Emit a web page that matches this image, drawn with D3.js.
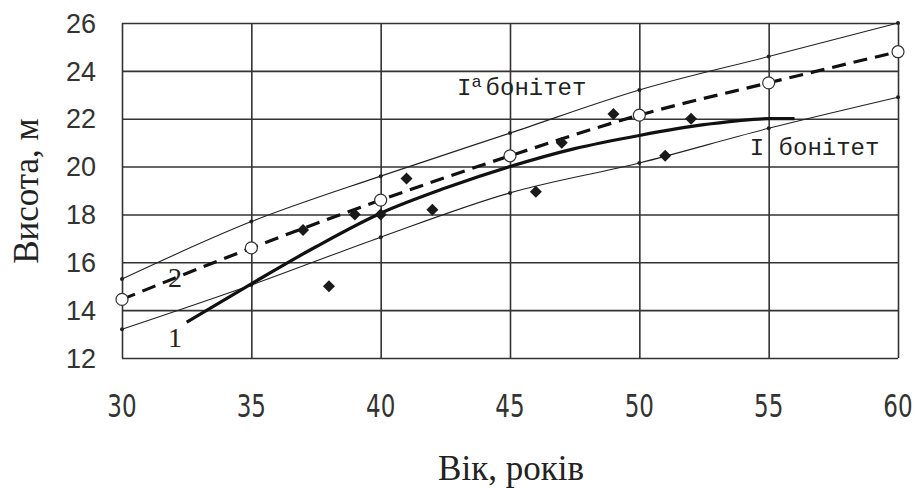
<!DOCTYPE html>
<html>
<head>
<meta charset="utf-8">
<script src="https://cdn.jsdelivr.net/npm/d3@7"></script>
<style>
  body { margin: 0; background: #fff; }
  svg { display: block; }
</style>
</head>
<body>
<div id="chart"></div>
<script>
// age ticks and the three bonitet reference curves
var ages = [30, 35, 40, 45, 50, 55, 60];
var upperBound = [15.3, 17.7, 19.6, 21.4, 23.2, 24.6, 26.0];
var lowerBound = [13.2, 15.05, 17.05, 18.9, 20.15, 21.6, 22.9];
var curve2 = [14.45, 16.6, 18.6, 20.45, 22.15, 23.5, 24.8];

// curve 1 (fitted, solid)
var curve1Ages = [32.5, 35, 37.5, 40, 42.5, 45, 47.5, 50, 52.5, 55, 56];
var curve1 = [13.5, 15.1, 16.65, 18.05, 19.1, 20.0, 20.75, 21.3, 21.75, 22.0, 22.0];

// measured trees
var pointAges = [37, 38, 39, 40, 41, 42, 46, 47, 49, 51, 52];
var pointHeights = [17.35, 15.0, 18.0, 18.0, 19.5, 18.2, 18.95, 21.0, 22.2, 20.45, 22.0];

var yTicks = [12, 14, 16, 18, 20, 22, 24, 26];

var width = 915, height = 488;
var padding = { top: 23, right: 17, bottom: 130, left: 122 };

var svg = d3.select("#chart").append("svg")
  .attr("width", width)
  .attr("height", height);

var xscale = d3.scaleLinear().domain([30, 60])
  .range([padding.left, width - padding.right]);
var yscale = d3.scaleLinear().domain([12, 26])
  .range([height - padding.bottom, padding.top]);

var gridColor = "#333";

// grid lines
svg.append("g")
  .attr("transform", "translate(0," + (height - padding.bottom) + ")")
  .call(d3.axisBottom(xscale).tickValues(ages)
    .tickSize(-(height - padding.bottom - padding.top)).tickFormat("").tickSizeOuter(0))
  .call(g => g.select(".domain").remove())
  .call(g => g.selectAll("line").attr("stroke", gridColor).attr("stroke-width", 1.6));

svg.append("g")
  .attr("transform", "translate(" + padding.left + ",0)")
  .call(d3.axisLeft(yscale).tickValues(yTicks)
    .tickSize(-(width - padding.left - padding.right)).tickFormat("").tickSizeOuter(0))
  .call(g => g.select(".domain").remove())
  .call(g => g.selectAll("line").attr("stroke", gridColor).attr("stroke-width", 1.6));

// tick labels
svg.append("g").selectAll("text").data(yTicks).enter().append("text")
  .attr("x", padding.left - 26)
  .attr("y", d => yscale(d))
  .attr("dy", "0.36em")
  .attr("text-anchor", "end")
  .style("font-family", "'Liberation Sans', Arial, sans-serif")
  .style("font-size", "27px")
  .style("fill", "#333")
  .text(d => d);

// x labels are narrow in the original, squeeze them horizontally
svg.append("g").selectAll("text").data(ages).enter().append("text")
  .attr("transform", d => "translate(" + xscale(d) + ",417) scale(0.72,1)")
  .attr("text-anchor", "middle")
  .style("font-family", "'DejaVu Sans', sans-serif")
  .style("font-size", "32px")
  .style("fill", "#333")
  .text(d => d);

// axis titles
svg.append("text")
  .attr("x", 511).attr("y", 480)
  .attr("text-anchor", "middle")
  .style("font-family", "'Liberation Serif', 'Times New Roman', serif")
  .style("font-size", "35px")
  .style("fill", "#222")
  .text("Вік, років");

svg.append("text")
  .attr("transform", "translate(38,191) rotate(-90)")
  .attr("text-anchor", "middle")
  .style("font-family", "'Liberation Serif', 'Times New Roman', serif")
  .style("font-size", "35px")
  .style("fill", "#222")
  .text("Висота, м");

// lines
var line = d3.line()
  .x(d => xscale(d[0]))
  .y(d => yscale(d[1]))
  .curve(d3.curveMonotoneX);

function pairs(xs, ys) { return xs.map((x, i) => [x, ys[i]]); }

[upperBound, lowerBound].forEach(function (vals) {
  svg.append("path")
    .datum(pairs(ages, vals))
    .attr("d", line)
    .attr("fill", "none")
    .attr("stroke", "#222")
    .attr("stroke-width", 1.1);
  svg.append("g").selectAll("circle").data(pairs(ages, vals)).enter().append("circle")
    .attr("cx", d => xscale(d[0]))
    .attr("cy", d => yscale(d[1]))
    .attr("r", 2)
    .attr("fill", "#222");
});

svg.append("path")
  .datum(pairs(curve1Ages, curve1))
  .attr("d", line)
  .attr("fill", "none")
  .attr("stroke", "#111")
  .attr("stroke-width", 3.2);

svg.append("path")
  .datum(pairs(ages, curve2))
  .attr("d", line)
  .attr("fill", "none")
  .attr("stroke", "#111")
  .attr("stroke-width", 3.2)
  .attr("stroke-dasharray", "14,8");

// measured points
svg.append("g").selectAll("path").data(pairs(pointAges, pointHeights)).enter().append("path")
  .attr("d", d3.symbol().type(d3.symbolSquare).size(72))
  .attr("transform", d => "translate(" + xscale(d[0]) + "," + yscale(d[1]) + ") rotate(45)")
  .attr("fill", "#1a1a1a");

// open circles on curve 2
svg.append("g").selectAll("circle").data(pairs(ages, curve2)).enter().append("circle")
  .attr("cx", d => xscale(d[0]))
  .attr("cy", d => yscale(d[1]))
  .attr("r", 6)
  .attr("fill", "#fff")
  .attr("stroke", "#333")
  .attr("stroke-width", 1.2);

// curve numbers
var serif = "'Liberation Serif', 'Times New Roman', serif";
svg.append("text").attr("x", xscale(32.05)).attr("y", yscale(14.95))
  .attr("text-anchor", "middle")
  .style("font-family", serif).style("font-size", "28px").style("fill", "#222")
  .text("2");
svg.append("text").attr("x", xscale(32.05)).attr("y", yscale(12.45))
  .attr("text-anchor", "middle")
  .style("font-family", serif).style("font-size", "28px").style("fill", "#222")
  .text("1");

// bonitet labels
var mono = "'Liberation Mono', 'Courier New', monospace";
var upLabel = svg.append("text").attr("x", xscale(42.95)).attr("y", yscale(23.0))
  .style("font-family", mono).style("font-size", "24px").style("fill", "#222");
upLabel.append("tspan").text("I");
upLabel.append("tspan").attr("dy", -8).style("font-size", "17px").text("a");
upLabel.append("tspan").attr("dy", 8).attr("dx", 4).text("бонітет");

svg.append("text").attr("x", xscale(54.27)).attr("y", yscale(20.48))
  .style("font-family", mono).style("font-size", "24px").style("fill", "#222")
  .text("I бонітет");
</script>
</body>
</html>
